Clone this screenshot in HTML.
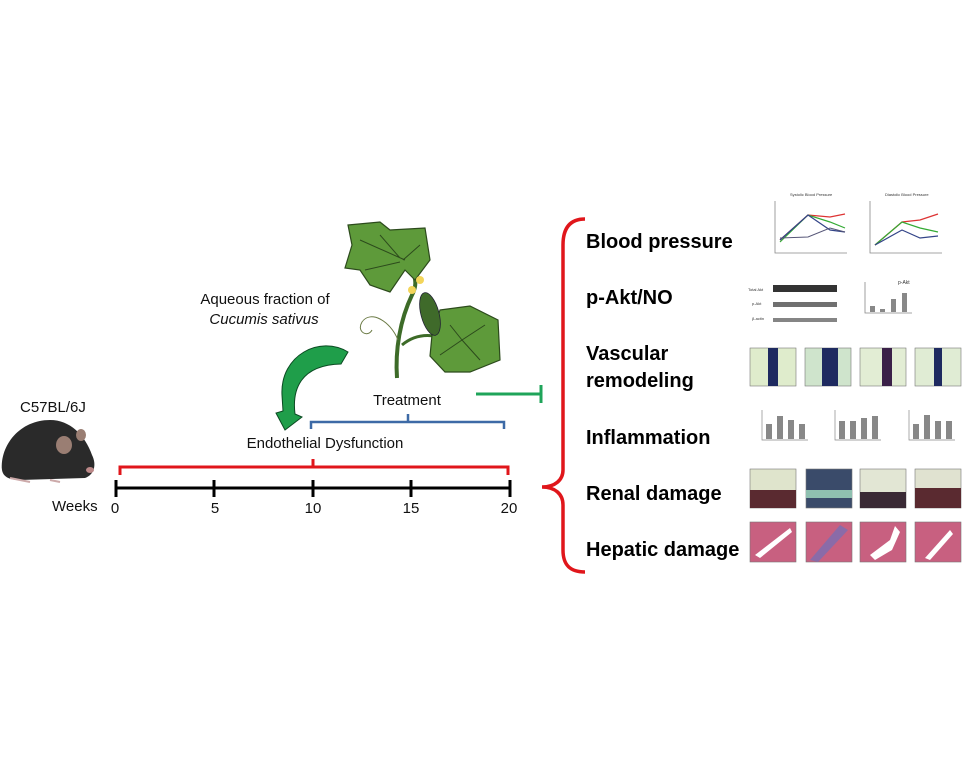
<!DOCTYPE html>
<html><head><meta charset="utf-8"><style>
html,body{margin:0;padding:0;background:#fff;}
svg{display:block;font-family:"Liberation Sans",sans-serif;}
</style></head><body>
<svg width="962" height="768" viewBox="0 0 962 768" xmlns="http://www.w3.org/2000/svg">
<!-- mouse -->
<path d="M2 470 C0 445 20 420 50 420 C70 420 85 435 92 455 C97 465 94 475 85 478 L20 480 C8 480 3 476 2 470 Z" fill="#2a2a2a"/>
<ellipse cx="64" cy="445" rx="8" ry="9" fill="#9a7e73"/>
<ellipse cx="81" cy="435" rx="5" ry="6" fill="#9a7e73"/>
<ellipse cx="90" cy="470" rx="4" ry="3" fill="#b88"/>
<path d="M10 478 L30 482 M50 480 L60 482" stroke="#caa" stroke-width="2"/>
<text x="20" y="412" font-size="15" fill="#111">C57BL/6J</text>
<!-- timeline -->
<line x1="116" y1="488" x2="511" y2="488" stroke="#000" stroke-width="3"/>
<g stroke="#000" stroke-width="3">
<line x1="116" y1="480" x2="116" y2="497"/><line x1="214" y1="480" x2="214" y2="497"/><line x1="313" y1="480" x2="313" y2="497"/><line x1="411" y1="480" x2="411" y2="497"/><line x1="510" y1="480" x2="510" y2="497"/>
</g>
<g font-size="15" fill="#111" text-anchor="middle">
<text x="115" y="513">0</text><text x="215" y="513">5</text><text x="313" y="513">10</text><text x="411" y="513">15</text><text x="509" y="513">20</text>
</g>
<text x="52" y="511" font-size="15" fill="#111">Weeks</text>
<!-- red bracket -->
<path d="M120 475 V467 H508 V475 M313 467 V459" fill="none" stroke="#e0161b" stroke-width="3"/>
<text x="325" y="448" font-size="15" fill="#111" text-anchor="middle">Endothelial Dysfunction</text>
<!-- blue bracket -->
<path d="M311 429 V422 H504 V429 M408 422 V414" fill="none" stroke="#3d6aa6" stroke-width="2.5"/>
<text x="407" y="405" font-size="15" fill="#111" text-anchor="middle">Treatment</text>
<!-- green inhibit -->
<path d="M476 394 H541 M541 385 V403" fill="none" stroke="#1fa45a" stroke-width="3"/>
<!-- aqueous text -->
<text x="265" y="304" font-size="15" fill="#111" text-anchor="middle">Aqueous fraction of</text>
<text x="264" y="324" font-size="15" fill="#111" text-anchor="middle" font-style="italic">Cucumis sativus</text>
<!-- green curved arrow -->
<path d="M348 352 C320 335 280 355 282 395 L283 411 L276 413 L285 430 L302 417 L295 414 C292 390 300 365 341 364 Z" fill="#1f9e4a" stroke="#0b4a22" stroke-width="1"/>
<!-- plant -->
<path d="M397 378 C395 350 400 320 412 295 C420 280 412 270 405 262" fill="none" stroke="#3d6b28" stroke-width="4"/>
<path d="M402 345 C420 330 440 335 460 345" fill="none" stroke="#3d6b28" stroke-width="3"/>
<path d="M398 340 C390 320 370 310 362 322 C356 332 368 338 372 330" fill="none" stroke="#6b7a45" stroke-width="1"/>
<path d="M348 225 L380 222 L390 230 L425 228 L430 260 L415 280 L405 270 L390 292 L370 285 L360 270 L345 268 L352 245 Z" fill="#5e9a3a" stroke="#2c4a1c" stroke-width="1.2"/>
<path d="M360 240 L405 260 M380 235 L400 258 M365 270 L400 262 M420 245 L403 260" stroke="#2c4a1c" stroke-width="1"/>
<path d="M440 310 L470 306 L498 320 L500 360 L470 372 L445 372 L430 356 L432 335 Z" fill="#5e9a3a" stroke="#2c4a1c" stroke-width="1.2"/>
<path d="M450 325 L462 340 M485 325 L462 340 M440 355 L462 340 M480 360 L462 340" stroke="#2c4a1c" stroke-width="1"/>
<ellipse cx="430" cy="314" rx="9" ry="22" fill="#3f6a2a" stroke="#223" stroke-width="0.8" transform="rotate(-15 430 314)"/>
<circle cx="412" cy="290" r="4" fill="#f3d55a"/><circle cx="420" cy="280" r="4" fill="#f3d55a"/>
<!-- right brace -->
<path d="M585 219 C570 219 563 228 563 245 L563 470 C563 480 555 487 542 487 C555 487 563 494 563 505 L563 550 C563 565 570 572 585 572" fill="none" stroke="#e0161b" stroke-width="3.5"/>
<g font-size="20" font-weight="bold" fill="#000">
<text x="586" y="248">Blood pressure</text>
<text x="586" y="304">p-Akt/NO</text>
<text x="586" y="360">Vascular</text>
<text x="586" y="387">remodeling</text>
<text x="586" y="444">Inflammation</text>
<text x="586" y="500">Renal damage</text>
<text x="586" y="556">Hepatic damage</text>
</g>
<!-- BP charts -->
<g font-size="4" fill="#333">
<text x="790" y="196">Systolic Blood Pressure</text><text x="885" y="196">Diastolic Blood Pressure</text></g>
<g fill="none" stroke="#888" stroke-width="0.8"><path d="M775 201 V253 H847"/><path d="M870 201 V253 H942"/></g>
<path d="M780 240 L808 215 L830 217 L845 214" fill="none" stroke="#d33" stroke-width="1.2"/>
<path d="M780 242 L808 215 L830 222 L845 228" fill="none" stroke="#3a3" stroke-width="1.2"/>
<path d="M780 240 L808 215 L830 230 L845 232" fill="none" stroke="#348" stroke-width="1.2"/>
<path d="M780 238 L808 237 L830 228 L845 232" fill="none" stroke="#557" stroke-width="1"/>
<path d="M875 245 L902 222 L920 220 L938 214" fill="none" stroke="#d33" stroke-width="1.2"/>
<path d="M875 245 L902 222 L920 228 L938 232" fill="none" stroke="#3a3" stroke-width="1.2"/>
<path d="M875 245 L902 230 L920 238 L938 236" fill="none" stroke="#348" stroke-width="1.2"/>
<!-- western -->
<g fill="#333"><rect x="773" y="285" width="64" height="7"/><rect x="773" y="302" width="64" height="5" opacity="0.7"/><rect x="773" y="318" width="64" height="4" opacity="0.6"/></g>
<g font-size="4" fill="#333"><text x="748" y="291">Total Akt</text><text x="752" y="305">p-Akt</text><text x="752" y="320">β-actin</text></g>
<g fill="#888"><rect x="870" y="306" width="5" height="6"/><rect x="880" y="309" width="5" height="3"/><rect x="891" y="299" width="5" height="13"/><rect x="902" y="293" width="5" height="19"/></g>
<path d="M865 282 V313 H912" fill="none" stroke="#888" stroke-width="0.8"/>
<text x="898" y="284" font-size="5" fill="#333">p-Akt</text>
<!-- vascular -->
<g stroke="#777" stroke-width="0.6">
<rect x="750" y="348" width="46" height="38" fill="#dfeccc"/><rect x="805" y="348" width="46" height="38" fill="#cfe4cc"/><rect x="860" y="348" width="46" height="38" fill="#e2edd4"/><rect x="915" y="348" width="46" height="38" fill="#e0ecd4"/></g>
<g fill="#1e2a60"><rect x="768" y="348" width="10" height="38"/><rect x="822" y="348" width="16" height="38"/><rect x="882" y="348" width="10" height="38" fill="#3a2048"/><rect x="934" y="348" width="8" height="38"/></g>
<!-- inflammation -->
<g fill="#888">
<rect x="766" y="424" width="6" height="15"/><rect x="777" y="416" width="6" height="23"/><rect x="788" y="420" width="6" height="19"/><rect x="799" y="424" width="6" height="15"/>
<rect x="839" y="421" width="6" height="18"/><rect x="850" y="421" width="6" height="18"/><rect x="861" y="418" width="6" height="21"/><rect x="872" y="416" width="6" height="23"/>
<rect x="913" y="424" width="6" height="15"/><rect x="924" y="415" width="6" height="24"/><rect x="935" y="421" width="6" height="18"/><rect x="946" y="421" width="6" height="18"/></g>
<g fill="none" stroke="#888" stroke-width="0.7"><path d="M762 410 V440 H808"/><path d="M835 410 V440 H881"/><path d="M909 410 V440 H955"/></g>
<!-- renal -->
<g stroke="#777" stroke-width="0.6">
<rect x="750" y="469" width="46" height="39" fill="#dfe4cc"/><rect x="806" y="469" width="46" height="39" fill="#3a4b6a"/><rect x="860" y="469" width="46" height="39" fill="#e2e6d4"/><rect x="915" y="469" width="46" height="39" fill="#e0e2d0"/></g>
<g fill="#5a2a30"><rect x="750" y="490" width="46" height="18"/><rect x="860" y="492" width="46" height="16" fill="#3a2a35"/><rect x="915" y="488" width="46" height="20"/></g>
<rect x="806" y="490" width="46" height="8" fill="#8fc0b0"/>
<!-- hepatic -->
<g stroke="#777" stroke-width="0.6" fill="#c86080">
<rect x="750" y="522" width="46" height="40"/><rect x="806" y="522" width="46" height="40"/><rect x="860" y="522" width="46" height="40"/><rect x="915" y="522" width="46" height="40"/></g>
<path d="M810 560 L840 525 L848 530 L818 562 Z" fill="#8a6ba8"/>
<path d="M755 555 L790 528 L792 532 L760 558 Z" fill="#fff"/>
<path d="M870 555 L890 540 L895 526 L900 532 L892 550 L875 560 Z" fill="#fff"/>
<path d="M925 558 L950 530 L953 534 L930 560 Z" fill="#fff"/>
</svg>
</body></html>
